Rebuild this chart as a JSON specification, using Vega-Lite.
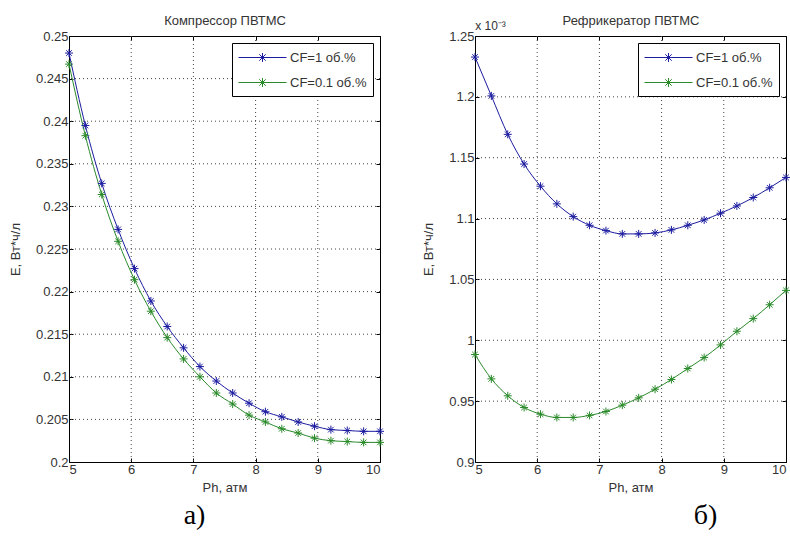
{
  "$schema": "https://vega.github.io/schema/vega-lite/v6.json",
  "background": "white",
  "padding": {"left": 9, "top": 14, "right": 1, "bottom": 2},
  "bounds": "flush",
  "spacing": 95,
  "datasets": {
    "gx": [{"v": 6}, {"v": 7}, {"v": 8}, {"v": 9}],
    "gyk": [{"v": 0.205}, {"v": 0.21}, {"v": 0.215}, {"v": 0.22}, {"v": 0.225}, {"v": 0.23}, {"v": 0.235}, {"v": 0.24}, {"v": 0.245}],
    "gyr": [{"v": 0.95}, {"v": 1}, {"v": 1.05}, {"v": 1.1}, {"v": 1.15}, {"v": 1.2}],
    "komp": [
      {"x": 5, "y": 0.2480, "s": "CF=1 об.%"},
      {"x": 5.2632, "y": 0.2395, "s": "CF=1 об.%"},
      {"x": 5.5263, "y": 0.2327, "s": "CF=1 об.%"},
      {"x": 5.7895, "y": 0.2273, "s": "CF=1 об.%"},
      {"x": 6.0526, "y": 0.2227, "s": "CF=1 об.%"},
      {"x": 6.3158, "y": 0.2189, "s": "CF=1 об.%"},
      {"x": 6.5789, "y": 0.2159, "s": "CF=1 об.%"},
      {"x": 6.8421, "y": 0.2134, "s": "CF=1 об.%"},
      {"x": 7.1053, "y": 0.2112, "s": "CF=1 об.%"},
      {"x": 7.3684, "y": 0.2095, "s": "CF=1 об.%"},
      {"x": 7.6316, "y": 0.2081, "s": "CF=1 об.%"},
      {"x": 7.8947, "y": 0.2069, "s": "CF=1 об.%"},
      {"x": 8.1579, "y": 0.2059, "s": "CF=1 об.%"},
      {"x": 8.4211, "y": 0.2053, "s": "CF=1 об.%"},
      {"x": 8.6842, "y": 0.2047, "s": "CF=1 об.%"},
      {"x": 8.9474, "y": 0.2042, "s": "CF=1 об.%"},
      {"x": 9.2105, "y": 0.2038, "s": "CF=1 об.%"},
      {"x": 9.4737, "y": 0.2037, "s": "CF=1 об.%"},
      {"x": 9.7368, "y": 0.2036, "s": "CF=1 об.%"},
      {"x": 10, "y": 0.2036, "s": "CF=1 об.%"},
      {"x": 5, "y": 0.2467, "s": "CF=0.1 об.%"},
      {"x": 5.2632, "y": 0.2383, "s": "CF=0.1 об.%"},
      {"x": 5.5263, "y": 0.2314, "s": "CF=0.1 об.%"},
      {"x": 5.7895, "y": 0.2259, "s": "CF=0.1 об.%"},
      {"x": 6.0526, "y": 0.2214, "s": "CF=0.1 об.%"},
      {"x": 6.3158, "y": 0.2177, "s": "CF=0.1 об.%"},
      {"x": 6.5789, "y": 0.2146, "s": "CF=0.1 об.%"},
      {"x": 6.8421, "y": 0.2121, "s": "CF=0.1 об.%"},
      {"x": 7.1053, "y": 0.2100, "s": "CF=0.1 об.%"},
      {"x": 7.3684, "y": 0.2081, "s": "CF=0.1 об.%"},
      {"x": 7.6316, "y": 0.2068, "s": "CF=0.1 об.%"},
      {"x": 7.8947, "y": 0.2055, "s": "CF=0.1 об.%"},
      {"x": 8.1579, "y": 0.2047, "s": "CF=0.1 об.%"},
      {"x": 8.4211, "y": 0.2039, "s": "CF=0.1 об.%"},
      {"x": 8.6842, "y": 0.2034, "s": "CF=0.1 об.%"},
      {"x": 8.9474, "y": 0.2028, "s": "CF=0.1 об.%"},
      {"x": 9.2105, "y": 0.2025, "s": "CF=0.1 об.%"},
      {"x": 9.4737, "y": 0.2024, "s": "CF=0.1 об.%"},
      {"x": 9.7368, "y": 0.2023, "s": "CF=0.1 об.%"},
      {"x": 10, "y": 0.2023, "s": "CF=0.1 об.%"}
    ],
    "refr": [
      {"x": 5, "y": 1.2327, "s": "CF=1 об.%"},
      {"x": 5.2632, "y": 1.2008, "s": "CF=1 об.%"},
      {"x": 5.5263, "y": 1.1692, "s": "CF=1 об.%"},
      {"x": 5.7895, "y": 1.1448, "s": "CF=1 об.%"},
      {"x": 6.0526, "y": 1.1266, "s": "CF=1 об.%"},
      {"x": 6.3158, "y": 1.1121, "s": "CF=1 об.%"},
      {"x": 6.5789, "y": 1.1016, "s": "CF=1 об.%"},
      {"x": 6.8421, "y": 1.0945, "s": "CF=1 об.%"},
      {"x": 7.1053, "y": 1.0901, "s": "CF=1 об.%"},
      {"x": 7.3684, "y": 1.0874, "s": "CF=1 об.%"},
      {"x": 7.6316, "y": 1.0874, "s": "CF=1 об.%"},
      {"x": 7.8947, "y": 1.0882, "s": "CF=1 об.%"},
      {"x": 8.1579, "y": 1.0907, "s": "CF=1 об.%"},
      {"x": 8.4211, "y": 1.0945, "s": "CF=1 об.%"},
      {"x": 8.6842, "y": 1.0989, "s": "CF=1 об.%"},
      {"x": 8.9474, "y": 1.1044, "s": "CF=1 об.%"},
      {"x": 9.2105, "y": 1.1104, "s": "CF=1 об.%"},
      {"x": 9.4737, "y": 1.1173, "s": "CF=1 об.%"},
      {"x": 9.7368, "y": 1.1253, "s": "CF=1 об.%"},
      {"x": 10, "y": 1.1338, "s": "CF=1 об.%"},
      {"x": 5, "y": 0.9883, "s": "CF=0.1 об.%"},
      {"x": 5.2632, "y": 0.9683, "s": "CF=0.1 об.%"},
      {"x": 5.5263, "y": 0.9544, "s": "CF=0.1 об.%"},
      {"x": 5.7895, "y": 0.9448, "s": "CF=0.1 об.%"},
      {"x": 6.0526, "y": 0.9393, "s": "CF=0.1 об.%"},
      {"x": 6.3158, "y": 0.9366, "s": "CF=0.1 об.%"},
      {"x": 6.5789, "y": 0.9366, "s": "CF=0.1 об.%"},
      {"x": 6.8421, "y": 0.9383, "s": "CF=0.1 об.%"},
      {"x": 7.1053, "y": 0.9415, "s": "CF=0.1 об.%"},
      {"x": 7.3684, "y": 0.9467, "s": "CF=0.1 об.%"},
      {"x": 7.6316, "y": 0.9527, "s": "CF=0.1 об.%"},
      {"x": 7.8947, "y": 0.9598, "s": "CF=0.1 об.%"},
      {"x": 8.1579, "y": 0.9678, "s": "CF=0.1 об.%"},
      {"x": 8.4211, "y": 0.9768, "s": "CF=0.1 об.%"},
      {"x": 8.6842, "y": 0.9858, "s": "CF=0.1 об.%"},
      {"x": 8.9474, "y": 0.9962, "s": "CF=0.1 об.%"},
      {"x": 9.2105, "y": 1.0074, "s": "CF=0.1 об.%"},
      {"x": 9.4737, "y": 1.0178, "s": "CF=0.1 об.%"},
      {"x": 9.7368, "y": 1.0292, "s": "CF=0.1 об.%"},
      {"x": 10, "y": 1.0410, "s": "CF=0.1 об.%"}
    ]
  },
  "config": {
    "font": "Liberation Sans",
    "view": {"stroke": null},
    "axis": {
      "domainColor": "#000",
      "tickColor": "#000",
      "ticks": true,
      "tickSize": -4,
      "labelColor": "#333",
      "labelFontSize": 13,
      "labelPadding": 5,
      "titleColor": "#333",
      "titleFontSize": 13,
      "titleFontWeight": "normal",
      "grid": false
    },
    "legend": {
      "strokeColor": "#000",
      "fillColor": "#fff",
      "padding": 6,
      "labelFontSize": 13,
      "labelColor": "#333",
      "labelOffset": 19,
      "symbolOffset": 16,
      "rowPadding": 9,
      "symbolStrokeWidth": 1,
      "symbolFillColor": "transparent",
      "symbolType": "M-3,0H3M-0.56,0H0.56M0,-0.56V0.56M-0.4,-0.4L0.4,0.4M-0.4,0.4L0.4,-0.4",
      "symbolSize": 256,
      "offset": 7,
      "orient": "top-right",
      "title": null
    },
    "title": {"font": "Liberation Serif", "fontSize": 28, "fontWeight": "normal", "color": "#000"}
  },
  "resolve": {"scale": {"color": "independent"}, "legend": {"color": "independent"}},
  "hconcat": [
    {
      "width": 311,
      "height": 426,
      "title": {"text": "а)", "orient": "bottom", "frame": "group", "dx": -30, "offset": 8},
      "resolve": {"axis": {"x": "independent", "y": "independent"}},
      "layer": [
        {
          "data": {"name": "gx"},
          "mark": {"type": "rule", "strokeDash": [1, 3], "color": "#444", "strokeWidth": 1},
          "encoding": {"x": {"field": "v", "type": "quantitative", "axis": null}}
        },
        {
          "data": {"name": "gyk"},
          "mark": {"type": "rule", "strokeDash": [1, 3], "color": "#444", "strokeWidth": 1},
          "encoding": {"y": {"field": "v", "type": "quantitative", "axis": null}}
        },
        {
          "data": {"name": "komp"},
          "mark": {"type": "line", "interpolate": "monotone", "strokeWidth": 1},
          "encoding": {
            "x": {"field": "x", "type": "quantitative", "scale": {"domain": [5, 10], "nice": false, "zero": false},
                  "axis": {"orient": "bottom", "title": "Ph, атм", "values": [5, 6, 7, 8, 9, 10], "titlePadding": 5}},
            "y": {"field": "y", "type": "quantitative", "scale": {"domain": [0.2, 0.25], "nice": false, "zero": false},
                  "axis": {"orient": "left", "title": "E, Вт*ч/л", "values": [0.2, 0.205, 0.21, 0.215, 0.22, 0.225, 0.23, 0.235, 0.24, 0.245, 0.25], "format": "~g", "titlePadding": 13}},
            "color": {"field": "s", "type": "nominal",
                      "scale": {"domain": ["CF=1 об.%", "CF=0.1 об.%"], "range": ["#1c1ca0", "#2a8a2a"]}}
          }
        },
        {
          "data": {"name": "komp"},
          "mark": {"type": "point", "shape": "M-1,0H1M0,-1V1M-0.7,-0.7L0.7,0.7M-0.7,0.7L0.7,-0.7", "filled": false, "size": 64, "strokeWidth": 1, "opacity": 1},
          "encoding": {
            "x": {"field": "x", "type": "quantitative", "scale": {"domain": [5, 10], "nice": false, "zero": false},
                  "axis": {"orient": "top", "title": "Компрессор ПВТМС", "values": [5, 6, 7, 8, 9, 10], "labels": false, "titlePadding": 8}},
            "y": {"field": "y", "type": "quantitative", "scale": {"domain": [0.2, 0.25], "nice": false, "zero": false},
                  "axis": {"orient": "right", "title": null, "values": [0.2, 0.205, 0.21, 0.215, 0.22, 0.225, 0.23, 0.235, 0.24, 0.245, 0.25], "labels": false}},
            "color": {"field": "s", "type": "nominal",
                      "scale": {"domain": ["CF=1 об.%", "CF=0.1 об.%"], "range": ["#1c1ca0", "#2a8a2a"]}}
          }
        }
      ]
    },
    {
      "width": 311,
      "height": 426,
      "title": {"text": "б)", "orient": "bottom", "frame": "group", "dx": 75, "offset": 8},
      "resolve": {"axis": {"x": "independent", "y": "independent"}},
      "layer": [
        {
          "data": {"name": "gx"},
          "mark": {"type": "rule", "strokeDash": [1, 3], "color": "#444", "strokeWidth": 1},
          "encoding": {"x": {"field": "v", "type": "quantitative", "axis": null}}
        },
        {
          "data": {"name": "gyr"},
          "mark": {"type": "rule", "strokeDash": [1, 3], "color": "#444", "strokeWidth": 1},
          "encoding": {"y": {"field": "v", "type": "quantitative", "axis": null}}
        },
        {
          "data": {"name": "refr"},
          "mark": {"type": "line", "interpolate": "monotone", "strokeWidth": 1},
          "encoding": {
            "x": {"field": "x", "type": "quantitative", "scale": {"domain": [5, 10], "nice": false, "zero": false},
                  "axis": {"orient": "bottom", "title": "Ph, атм", "values": [5, 6, 7, 8, 9, 10], "titlePadding": 5}},
            "y": {"field": "y", "type": "quantitative", "scale": {"domain": [0.9, 1.25], "nice": false, "zero": false},
                  "axis": {"orient": "left", "title": "E, Вт*ч/л", "values": [0.9, 0.95, 1, 1.05, 1.1, 1.15, 1.2, 1.25], "format": "~g", "titlePadding": 13}},
            "color": {"field": "s", "type": "nominal",
                      "scale": {"domain": ["CF=1 об.%", "CF=0.1 об.%"], "range": ["#1c1ca0", "#2a8a2a"]}}
          }
        },
        {
          "data": {"name": "refr"},
          "mark": {"type": "point", "shape": "M-1,0H1M0,-1V1M-0.7,-0.7L0.7,0.7M-0.7,0.7L0.7,-0.7", "filled": false, "size": 64, "strokeWidth": 1, "opacity": 1},
          "encoding": {
            "x": {"field": "x", "type": "quantitative", "scale": {"domain": [5, 10], "nice": false, "zero": false},
                  "axis": {"orient": "top", "title": "Рефрикератор ПВТМС", "values": [5, 6, 7, 8, 9, 10], "labels": false, "titlePadding": 8}},
            "y": {"field": "y", "type": "quantitative", "scale": {"domain": [0.9, 1.25], "nice": false, "zero": false},
                  "axis": {"orient": "right", "title": "x 10⁻³", "titleAngle": 0, "titleX": -296, "titleY": -11, "titleAlign": "center", "titleBaseline": "middle", "titleFontSize": 12, "values": [0.9, 0.95, 1, 1.05, 1.1, 1.15, 1.2, 1.25], "labels": false}},
            "color": {"field": "s", "type": "nominal",
                      "scale": {"domain": ["CF=1 об.%", "CF=0.1 об.%"], "range": ["#1c1ca0", "#2a8a2a"]}}
          }
        }
      ]
    }
  ]
}
